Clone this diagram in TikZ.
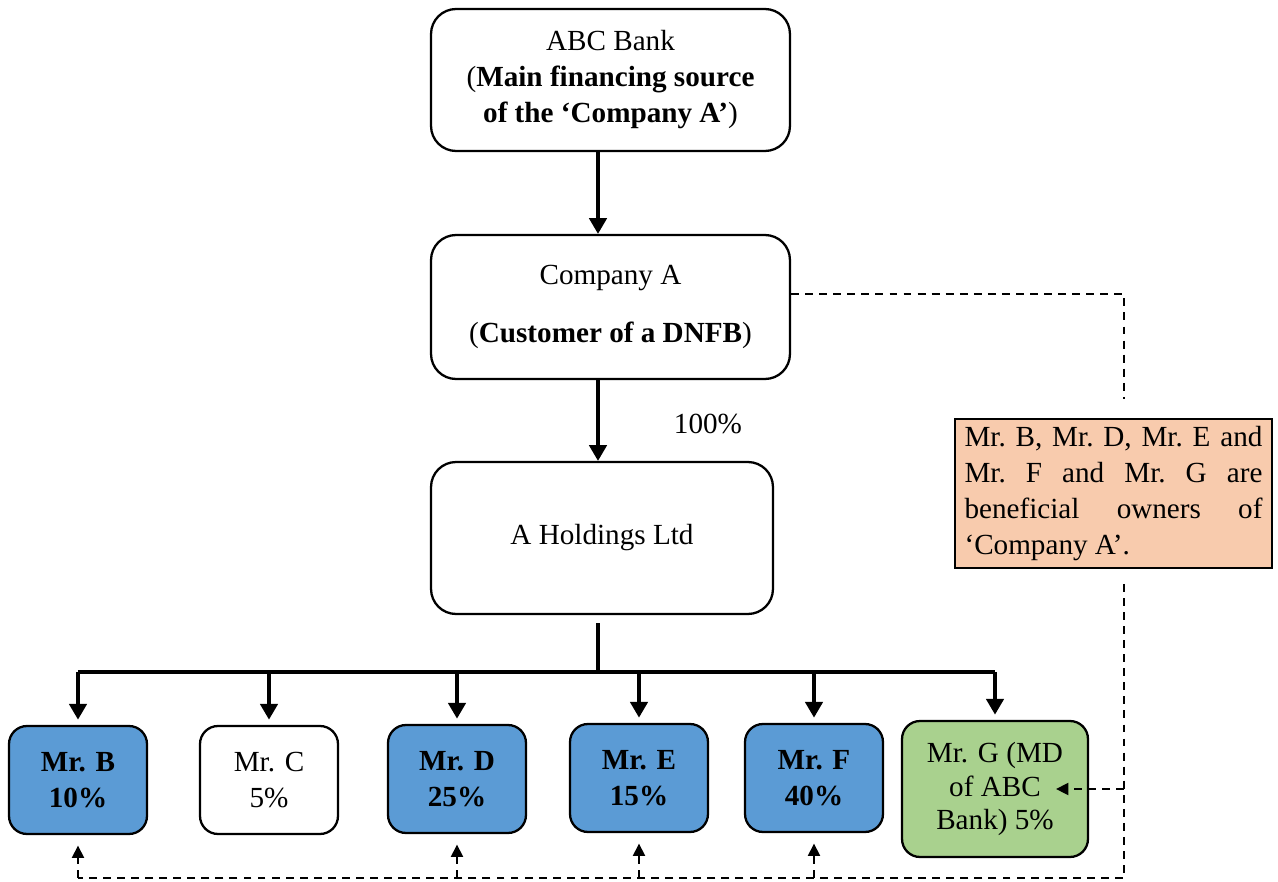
\documentclass[tikz,border=0pt]{standalone}
\usepackage{fontspec}
\setmainfont{Liberation Serif}
\usepackage{tikz}
\usetikzlibrary{arrows.meta}
\usetikzlibrary{calc}
\usetikzlibrary{positioning}

\definecolor{ownerblue}{HTML}{5B9BD5}
\definecolor{mdgreen}{HTML}{A9D18E}
\definecolor{notepeach}{HTML}{F8CBAD}

\begin{document}
\begin{tikzpicture}[
			x=0.02cm, y=-0.02cm,
			font=\fontsize{16.6}{20.5}\selectfont,
			entity/.style={draw, line width=1.3pt, rounded corners=0.5cm, align=center, inner sep=2pt},
			owner/.style={draw, line width=1.3pt, rounded corners=0.36cm, align=center,
					minimum width=2.76cm, minimum height=2.16cm, inner sep=1pt},
			link/.style={line width=1.8pt, -{Triangle[width=10pt,length=9pt]}},
			trace/.style={line width=0.8pt, dash pattern=on 4.5pt off 3.5pt},
			tracearrow/.style={trace, -{Triangle[width=7pt,length=7pt]}}
		]
		\useasboundingbox (0,0) rectangle (1278,882);

		% upper chain
		\node[entity, minimum width=7.18cm, minimum height=2.84cm] (bank) at (610.5,80)
			{ABC Bank\\(\textbf{Main financing source}\\\textbf{of the ‘Company A’})};
		\node[entity, minimum width=7.18cm, minimum height=2.88cm] (company) at (610.5,307)
			{Company A\\[13pt](\textbf{Customer of a DNFB})};
		\node[entity, minimum width=6.84cm, minimum height=3.04cm] (holdings) at (602,538)
			{A Holdings Ltd};
		\node (pct) at (708,424) {100\%};

		\coordinate (stem) at (598,623);
		\coordinate (bar) at (598,672);
		\draw[link] (bank.south -| stem) -- (company.north -| stem);
		\draw[link] (company.south -| stem) -- (holdings.north -| stem);

		% owners
		\node[owner, fill=ownerblue] (B) at (78,780) {\textbf{Mr. B}\\\textbf{10\%}};
		\node[owner] (C) at (269,780) {Mr. C\\5\%};
		\node[owner, fill=ownerblue] (D) at (457,779) {\textbf{Mr. D}\\\textbf{25\%}};
		\node[owner, fill=ownerblue] (E) at (639,778) {\textbf{Mr. E}\\\textbf{15\%}};
		\node[owner, fill=ownerblue] (F) at (814,778) {\textbf{Mr. F}\\\textbf{40\%}};
		\node[owner, fill=mdgreen, minimum width=3.72cm, minimum height=2.72cm] (G) at (995,789)
			{Mr. G (MD\\[-1.5pt]of ABC\\[-1.5pt]Bank) 5\%};

		\draw[line width=1.8pt] (stem) -- (bar);
		\draw[line width=1.8pt] (bar -| B) -- (bar -| G);
		\foreach \n in {B,C,D,E,F,G} {
				\draw[link, shorten >=3pt] (bar -| \n) -- (\n.north);
			}

		% beneficial ownership note
		\node[draw, line width=1.1pt, fill=notepeach, text width=5.96cm, inner xsep=0.19cm,
			align=justify, minimum height=2.98cm, inner ysep=3pt] (note) at (1113.5,493.5)
			{\frenchspacing\hyphenpenalty=10000 \spaceskip=0.25em plus 2em minus 0.08em
				Mr. B, Mr. D, Mr. E and\linebreak
				Mr. F and Mr. G are\linebreak beneficial owners of\linebreak ‘Company A’.};

		\coordinate (dtop) at (1124,294);
		\coordinate (dbot) at (1124,878);
		\draw[trace, shorten >=0.38cm] (company.east |- dtop) -- (dtop) -- (dtop |- note.north);
		\draw[trace, shorten <=0.3cm] (dtop |- note.south) -- (dbot) -- (dbot -| B);
		\draw[tracearrow] (dtop |- G) -- ($(G.east)+(-33,0)$);
		\foreach \n in {B,D,E,F} {
				\draw[tracearrow, shorten >=6pt] (dbot -| \n) -- (\n.south);
			}
	\end{tikzpicture}
\end{document}
